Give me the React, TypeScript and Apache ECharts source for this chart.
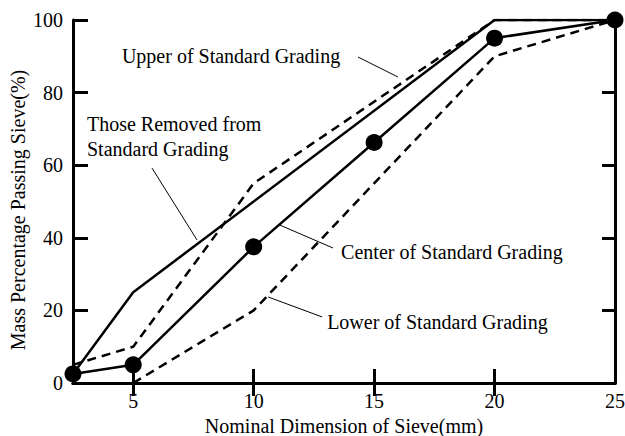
import React, { useEffect, useRef } from "react";
import * as echarts from "echarts";

// Sieve sizes (mm)
const sieve = [2.5, 5, 10, 15, 20, 25];
// Mass percentage passing (%)
const centerGrading = [2.5, 5, 37.5, 66.25, 95, 100];
const upperGrading = [5, 10, 55, 77.5, 100, 100];
const lowerSieve = [5, 10, 15, 20, 25];
const lowerGrading = [0, 20, 55, 90, 100];
const removedSieve = [2.5, 5, 20, 25];
const removedGrading = [2.5, 25, 100, 100];

const xTicks = [5, 10, 15, 20];
const xLabels = [5, 10, 15, 20, 25];

// Annotations: text anchor (data coords) and leader line endpoints (data coords)
const annoTexts = [
  { text: "Upper of Standard Grading", at: [4.53, 90.1] },
  { text: "Those Removed from\nStandard Grading", at: [3.08, 68.0] },
  { text: "Center of Standard Grading", at: [13.63, 36.1] },
  { text: "Lower of Standard Grading", at: [13.05, 16.8] },
];
const leaderUpper = [[14.33, 89.8], [15.99, 84.3]];
const leaderRemoved = [[5.78, 59.2], [7.65, 39.4]];
const leaderCenter = [[11.09, 43.5], [13.29, 37.2]];
const leaderLower = [[10.6, 23.7], [12.84, 18.2]];

const FONT = "Liberation Serif";

const pairs = (xs: number[], ys: number[]) => xs.map((x, i) => [x, ys[i]]);

export default function App() {
  const ref = useRef<HTMLDivElement>(null);
  useEffect(() => {
    document.body.style.margin = "0";
    if (!ref.current) return;
    const chart = echarts.init(ref.current, null, { renderer: "svg" });
    const axisLine = { show: true, lineStyle: { color: "#000", width: 3 } };
    const tickStyle = { color: "#000", width: 3 };
    const leader = (d: number[][]) => ({
      type: "line",
      data: d,
      symbol: "none",
      silent: true,
      lineStyle: { color: "#000", width: 1 },
      z: 1,
    });
    chart.setOption({
      animation: false,
      textStyle: { fontFamily: FONT },
      grid: { left: 73, right: 10, top: 20, bottom: 53, containLabel: false, outerBoundsMode: "none" },
      xAxis: [
        {
          type: "value",
          min: 2.5,
          max: 25,
          position: "bottom",
          axisLine,
          axisTick: { show: true, inside: true, length: 14, lineStyle: tickStyle, customValues: xTicks },
          axisLabel: { customValues: xLabels, color: "#000", fontFamily: FONT, fontSize: 20, margin: 8 },
          splitLine: { show: false },
          name: "Nominal Dimension of Sieve(mm)",
          nameLocation: "middle",
          nameGap: 29,
          nameTextStyle: { color: "#000", fontFamily: FONT, fontSize: 20 },
        },
        {
          type: "value",
          min: 2.5,
          max: 25,
          position: "top",
          axisLine,
          axisTick: { show: true, inside: true, length: 13, lineStyle: tickStyle, customValues: xTicks },
          axisLabel: { show: false },
          splitLine: { show: false },
        },
      ],
      yAxis: [
        {
          type: "value",
          min: 0,
          max: 100,
          interval: 20,
          position: "left",
          axisLine,
          axisTick: { show: true, inside: true, length: 15, lineStyle: tickStyle },
          axisLabel: { color: "#000", fontFamily: FONT, fontSize: 20, margin: 10 },
          splitLine: { show: false },
        },
        {
          type: "value",
          min: 0,
          max: 100,
          interval: 20,
          position: "right",
          axisLine,
          axisTick: { show: true, inside: true, length: 13, lineStyle: tickStyle },
          axisLabel: { show: false },
          splitLine: { show: false },
        },
      ],
      series: [
        {
          type: "line",
          data: pairs(sieve, upperGrading),
          symbol: "none",
          lineStyle: { color: "#000", width: 2.5, type: [9, 6] },
          z: 2,
        },
        {
          type: "line",
          data: pairs(lowerSieve, lowerGrading),
          symbol: "none",
          lineStyle: { color: "#000", width: 2.5, type: [9, 6] },
          z: 2,
        },
        {
          type: "line",
          data: pairs(removedSieve, removedGrading),
          symbol: "none",
          lineStyle: { color: "#000", width: 2.5 },
          z: 3,
        },
        {
          type: "line",
          data: pairs(sieve, centerGrading),
          symbol: "circle",
          symbolSize: 17,
          itemStyle: { color: "#000" },
          lineStyle: { color: "#000", width: 2.5 },
          z: 4,
        },
        leader(leaderUpper),
        leader(leaderRemoved),
        leader(leaderCenter),
        leader(leaderLower),
      ],
    });
    const graphics: any[] = annoTexts.map((a) => {
      const p = chart.convertToPixel({ xAxisIndex: 0, yAxisIndex: 0 }, a.at) as number[];
      return {
        type: "text",
        x: p[0],
        y: p[1],
        style: {
          text: a.text,
          fill: "#000",
          fontFamily: FONT,
          fontSize: 20,
          lineHeight: 25,
          align: "left",
          verticalAlign: "middle",
        },
        z: 10,
      };
    });
    graphics.push({
      type: "text",
      x: 18,
      y: 210,
      rotation: Math.PI / 2,
      style: {
        text: "Mass Percentage Passing Sieve(%)",
        fill: "#000",
        fontFamily: FONT,
        fontSize: 20,
        align: "center",
        verticalAlign: "middle",
      },
    });
    chart.setOption({ graphic: graphics });
    return () => chart.dispose();
  }, []);
  return <div ref={ref} style={{ width: 625, height: 436 }} />;
}
